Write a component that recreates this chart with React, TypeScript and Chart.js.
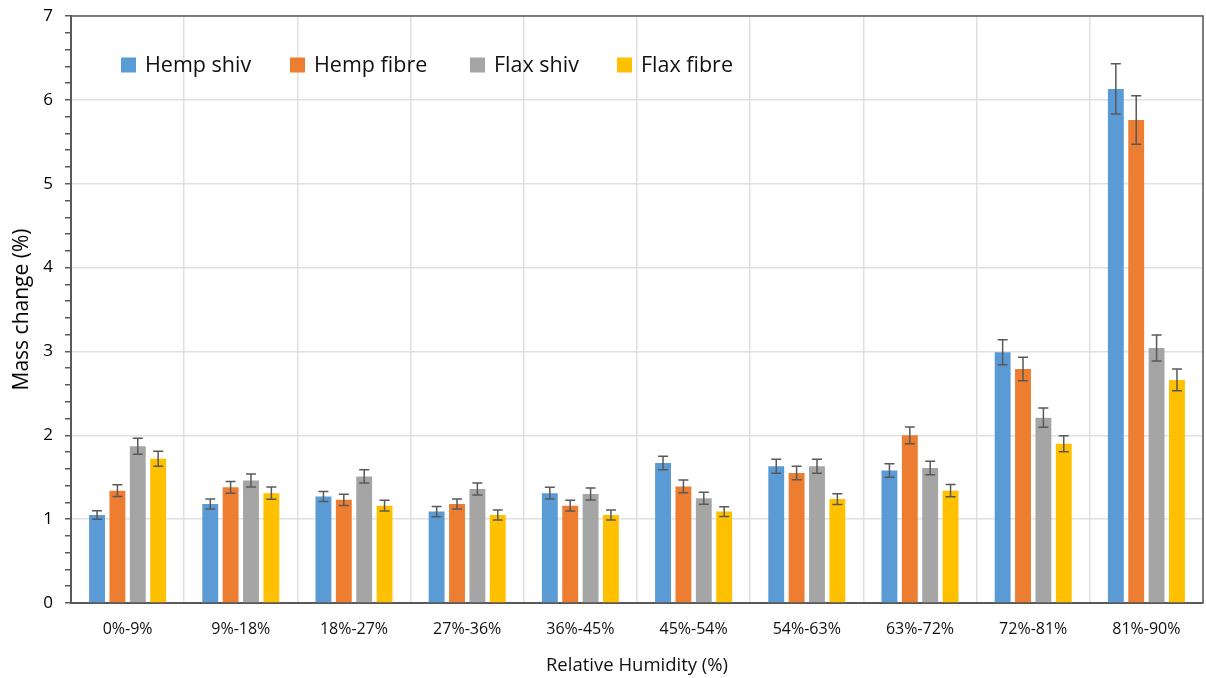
import React, { useEffect, useRef } from "react";
import { Chart, registerables } from "chart.js";

Chart.register(...registerables);

const categories = ["0%-9%", "9%-18%", "18%-27%", "27%-36%", "36%-45%", "45%-54%", "54%-63%", "63%-72%", "72%-81%", "81%-90%"];
const seriesNames = ["Hemp shiv", "Hemp fibre", "Flax shiv", "Flax fibre"];
const seriesColors = ["#5B9BD5", "#ED7D31", "#A5A5A5", "#FFC000"];

const hempShiv = [1.05, 1.18, 1.27, 1.09, 1.31, 1.67, 1.63, 1.58, 2.99, 6.13];
const hempFibre = [1.34, 1.38, 1.23, 1.18, 1.16, 1.39, 1.55, 2.0, 2.79, 5.76];
const flaxShiv = [1.87, 1.46, 1.51, 1.36, 1.3, 1.25, 1.63, 1.61, 2.21, 3.04];
const flaxFibre = [1.72, 1.31, 1.16, 1.05, 1.05, 1.09, 1.24, 1.34, 1.9, 2.66];

const hempShivErr = [0.05, 0.06, 0.06, 0.06, 0.07, 0.08, 0.084, 0.08, 0.15, 0.3];
const hempFibreErr = [0.07, 0.07, 0.066, 0.06, 0.064, 0.076, 0.08, 0.1, 0.14, 0.29];
const flaxShivErr = [0.095, 0.078, 0.08, 0.072, 0.072, 0.072, 0.084, 0.08, 0.115, 0.155];
const flaxFibreErr = [0.09, 0.072, 0.064, 0.06, 0.06, 0.058, 0.064, 0.072, 0.095, 0.13];

const yMin = 0;
const yMax = 7;
const yStep = 0.2;

const FONT = "'Open Sans', 'Noto Sans', sans-serif";

const isMajor = (v: number) => Math.abs(v - Math.round(v)) < 1e-6;

export default function App() {
  const ref = useRef<HTMLCanvasElement | null>(null);

  useEffect(() => {
    if (!ref.current) return;
    const values = [hempShiv, hempFibre, flaxShiv, flaxFibre];
    const errors = [hempShivErr, hempFibreErr, flaxShivErr, flaxFibreErr];

    const errorBars = {
      id: "errorBars",
      afterDatasetsDraw(chart: any) {
        const ctx = chart.ctx;
        const ys = chart.scales.y;
        ctx.save();
        ctx.strokeStyle = "#595959";
        ctx.lineWidth = 1.5;
        chart.data.datasets.forEach((ds: any, di: number) => {
          const meta = chart.getDatasetMeta(di);
          meta.data.forEach((bar: any, i: number) => {
            const v = ds.data[i];
            const e = errors[di][i];
            const yt = ys.getPixelForValue(v + e);
            const yb = ys.getPixelForValue(v - e);
            const x = bar.x;
            const cap = 5;
            ctx.beginPath();
            ctx.moveTo(x, yt);
            ctx.lineTo(x, yb);
            ctx.moveTo(x - cap, yt);
            ctx.lineTo(x + cap, yt);
            ctx.moveTo(x - cap, yb);
            ctx.lineTo(x + cap, yb);
            ctx.stroke();
          });
        });
        ctx.restore();
      },
    };

    const frame = {
      id: "frame",
      beforeDatasetsDraw(chart: any) {
        const { ctx, chartArea } = chart;
        ctx.save();
        ctx.strokeStyle = "#595959";
        ctx.lineWidth = 1.5;
        ctx.beginPath();
        ctx.moveTo(chartArea.left, chartArea.top);
        ctx.lineTo(chartArea.right, chartArea.top);
        ctx.lineTo(chartArea.right, chartArea.bottom);
        ctx.stroke();
        ctx.restore();
      },
    };

    const legendOffsets = [50, 219, 399, 546];
    const customLegend = {
      id: "customLegend",
      afterDraw(chart: any) {
        const { ctx, chartArea } = chart;
        ctx.save();
        ctx.font = `21.5px ${FONT}`;
        ctx.textBaseline = "middle";
        ctx.textAlign = "left";
        const cy = chartArea.top + 49;
        seriesNames.forEach((name, i) => {
          const x = chartArea.left + legendOffsets[i];
          ctx.fillStyle = seriesColors[i];
          ctx.fillRect(x, cy - 7.5, 15, 15);
          ctx.fillStyle = "#111";
          ctx.fillText(name, x + 24, cy + 1);
        });
        ctx.restore();
      },
    };

    const chart = new Chart(ref.current, {
      type: "bar",
      data: {
        labels: categories,
        datasets: values.map((vals, i) => ({
          label: seriesNames[i],
          data: vals,
          backgroundColor: seriesColors[i],
          borderWidth: 0,
          categoryPercentage: 0.72,
          barPercentage: 0.78,
        })),
      },
      options: {
        animation: false,
        responsive: true,
        maintainAspectRatio: false,
        layout: { padding: { top: 16, right: 3, left: 0, bottom: 0 } },
        plugins: {
          legend: { display: false },
          tooltip: { enabled: false },
        },
        scales: {
          x: {
            offset: true,
            grid: {
              offset: true,
              color: "#e0e0e0",
              lineWidth: 1.5,
              drawTicks: false,
            },
            border: { display: true, color: "#595959", width: 2 },
            ticks: {
              color: "#111",
              font: { family: FONT, size: 16 },
              padding: 17,
              maxRotation: 0,
              autoSkip: false,
            },
            title: {
              display: true,
              text: "Relative Humidity (%)",
              color: "#111",
              font: { family: FONT, size: 18.5 },
              padding: { top: 0, bottom: 1 },
            },
            afterFit(scale: any) {
              scale.height = 75;
              scale.paddingRight = 0;
            },
          },
          y: {
            min: yMin,
            max: yMax,
            grid: {
              color: (c: any) => (c.tick && isMajor(c.tick.value) ? "#e0e0e0" : "rgba(0,0,0,0)"),
              lineWidth: 1.5,
              drawTicks: true,
              tickLength: 6,
              tickColor: "#595959",
              tickWidth: 1.5,
            },
            border: { display: true, color: "#595959", width: 2 },
            ticks: {
              stepSize: yStep,
              autoSkip: false,
              color: "#000",
              font: { family: FONT, size: 17 },
              padding: 12,
              callback: (v: any) => (isMajor(Number(v)) ? String(Math.round(Number(v))) : ""),
            },
            title: {
              display: true,
              text: "Mass change (%)",
              color: "#000",
              font: { family: FONT, size: 21 },
              padding: { top: 9, bottom: 0 },
            },
            afterFit(scale: any) {
              scale.width = 71;
              scale.paddingTop = 0;
              scale.paddingBottom = 0;
            },
          },
        },
      },
      plugins: [frame, errorBars, customLegend],
    });
    return () => chart.destroy();
  }, []);

  return (
    <div style={{ position: "absolute", left: 0, top: 0, width: 1206, height: 678, background: "#fff" }}>
      <canvas ref={ref} />
    </div>
  );
}
